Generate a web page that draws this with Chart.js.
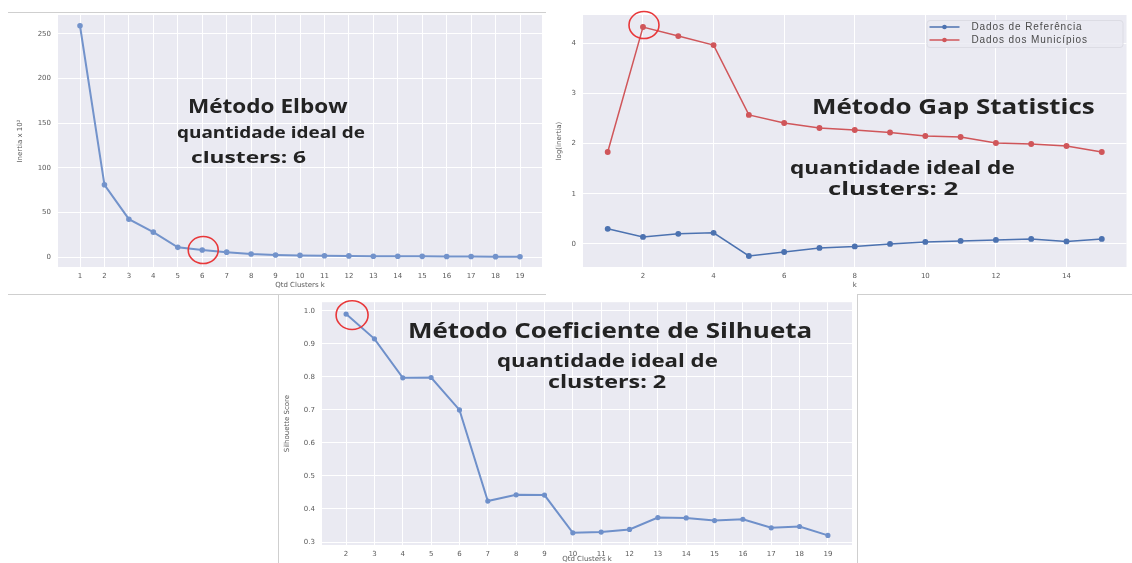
<!DOCTYPE html>
<html>
<head>
<meta charset="utf-8">
<script src="https://cdn.jsdelivr.net/npm/chart.js@4.4.0/dist/chart.umd.min.js"></script>
<style>
  body { margin: 0; background: #fff; width: 1132px; height: 563px; overflow: hidden; position: relative; font-family: "Open Sans", sans-serif; }
  canvas { position: absolute; }
  .rule { position: absolute; background: #cfcfcf; }
  .note { position: absolute; white-space: nowrap; font-weight: 700; color: #232323; line-height: 1; transform-origin: 0 50%; }
</style>
</head>
<body>
<div class="rule" style="left:8px;top:12px;width:538px;height:1px"></div>
<div class="rule" style="left:8px;top:294px;width:538px;height:1px"></div>
<div class="rule" style="left:857px;top:294px;width:275px;height:1px"></div>
<div class="rule" style="left:278px;top:294px;width:1px;height:269px"></div>
<div class="rule" style="left:857px;top:294px;width:1px;height:269px"></div>
<canvas id="elbow" width="548" height="296" style="left:0;top:0"></canvas>
<canvas id="gap" width="577" height="296" style="left:555px;top:0"></canvas>
<canvas id="silhueta" width="579" height="272" style="left:279px;top:291px"></canvas>
<script>
// Método Elbow
const elbowK = [1, 2, 3, 4, 5, 6, 7, 8, 9, 10, 11, 12, 13, 14, 15, 16, 17, 18, 19];
const elbowInertia = [259, 81, 42.5, 28, 11, 8, 5.6, 3.5, 2.5, 2, 1.6, 1.4, 1.1, 1, 0.9, 0.8, 0.7, 0.6, 0.5];
const elbowXTicks = [1, 2, 3, 4, 5, 6, 7, 8, 9, 10, 11, 12, 13, 14, 15, 16, 17, 18, 19];
const elbowYTicks = [0, 50, 100, 150, 200, 250];

// Método Gap Statistics
const gapK = [1, 2, 3, 4, 5, 6, 7, 8, 9, 10, 11, 12, 13, 14, 15];
const gapReferencia = [0.30, 0.14, 0.20, 0.22, -0.24, -0.16, -0.08, -0.05, 0.0, 0.04, 0.06, 0.08, 0.10, 0.05, 0.10];
const gapMunicipios = [1.83, 4.32, 4.14, 3.96, 2.57, 2.41, 2.31, 2.27, 2.22, 2.15, 2.13, 2.01, 1.99, 1.95, 1.83];
const gapXTicks = [2, 4, 6, 8, 10, 12, 14];
const gapYTicks = [0, 1, 2, 3, 4];

// Método Coeficiente de Silhueta
const silK = [2, 3, 4, 5, 6, 7, 8, 9, 10, 11, 12, 13, 14, 15, 16, 17, 18, 19];
const silScore = [0.99, 0.915, 0.797, 0.798, 0.70, 0.424, 0.443, 0.442, 0.328, 0.330, 0.338, 0.374, 0.373, 0.365, 0.369, 0.343, 0.347, 0.320];
const silXTicks = [2, 3, 4, 5, 6, 7, 8, 9, 10, 11, 12, 13, 14, 15, 16, 17, 18, 19];
const silYTicks = [0.3, 0.4, 0.5, 0.6, 0.7, 0.8, 0.9, 1.0];

const tickFont = { family: 'DejaVu Sans', size: 7 };
const tickColor = '#5a5a5a';

// fundo cinza estilo seaborn
const darkgrid = {
  id: 'darkgrid',
  beforeDraw(chart) {
    const { ctx, chartArea: a } = chart;
    ctx.save();
    ctx.fillStyle = '#eaeaf2';
    ctx.fillRect(a.left, a.top, a.right - a.left, a.bottom - a.top);
    ctx.restore();
  }
};

// círculo vermelho em volta do ponto escolhido
const marca = {
  id: 'marca',
  afterDatasetsDraw(chart, args, opts) {
    const meta = chart.getDatasetMeta(opts.dataset);
    const p = meta.data[opts.index];
    const ctx = chart.ctx;
    ctx.save();
    ctx.strokeStyle = '#e8383a';
    ctx.lineWidth = 1.6;
    ctx.beginPath();
    ctx.ellipse(p.x + opts.dx, p.y + opts.dy, opts.r, opts.r * 0.9, 0, 0, Math.PI * 2);
    ctx.stroke();
    ctx.restore();
  }
};

// legenda dentro da área do gráfico (canto superior direito)
const legendaInterna = {
  id: 'legendaInterna',
  afterDraw(chart) {
    const { ctx, chartArea: a } = chart;
    const x0 = a.right - 200, y0 = a.top + 5, w = 196, h = 27;
    ctx.save();
    ctx.fillStyle = 'rgba(234,234,242,0.85)';
    ctx.strokeStyle = '#dcdce4';
    ctx.lineWidth = 1;
    ctx.beginPath();
    ctx.roundRect(x0 + 0.5, y0 + 0.5, w, h, 3);
    ctx.fill();
    ctx.stroke();
    ctx.font = '10px "Liberation Sans"';
    ctx.letterSpacing = '0.9px';
    ctx.textBaseline = 'middle';
    chart.data.datasets.forEach((ds, i) => {
      const y = y0 + 7 + i * 13;
      ctx.strokeStyle = ds.borderColor;
      ctx.lineWidth = 1.5;
      ctx.beginPath();
      ctx.moveTo(x0 + 3, y);
      ctx.lineTo(x0 + 33, y);
      ctx.stroke();
      ctx.fillStyle = ds.borderColor;
      ctx.beginPath();
      ctx.arc(x0 + 18, y, 2.3, 0, Math.PI * 2);
      ctx.fill();
      ctx.fillStyle = '#4a4a4a';
      ctx.fillText(ds.label, x0 + 45, y + 0.5);
    });
    ctx.restore();
  }
};

function eixo(opts) {
  const vertical = opts.pos === 'left';
  return {
    type: 'linear',
    position: opts.pos,
    min: opts.min,
    max: opts.max,
    afterBuildTicks(scale) { scale.ticks = opts.ticks.map(v => ({ value: v })); },
    afterFit(scale) {
      if (vertical) scale.width = opts.size; else scale.height = opts.size;
    },
    grid: { color: '#ffffff', lineWidth: 1, drawTicks: false },
    border: { display: false },
    ticks: {
      font: tickFont,
      color: tickColor,
      padding: vertical ? 7 : 5,
      maxRotation: 0,
      autoSkip: false,
      callback: opts.fmt || (v => String(v))
    },
    title: {
      display: true,
      text: opts.title,
      font: tickFont,
      color: tickColor,
      padding: opts.titlePad || 0
    }
  };
}

function pares(xs, ys) { return xs.map((x, i) => ({ x: x, y: ys[i] })); }

const base = {
  responsive: false,
  animation: false,
  devicePixelRatio: 1,
  plugins: { legend: { display: false }, tooltip: { enabled: false } }
};

new Chart(document.getElementById('elbow'), {
  type: 'line',
  data: {
    datasets: [{
      label: 'Inertia',
      data: pares(elbowK, elbowInertia),
      borderColor: '#7393cb',
      backgroundColor: '#7393cb',
      borderWidth: 2,
      pointRadius: 1.8,
      tension: 0
    }]
  },
  options: {
    ...base,
    layout: { padding: { left: 0, right: 6, top: 15, bottom: 0 } },
    scales: {
      x: eixo({ pos: 'bottom', min: 0.1, max: 19.9, ticks: elbowXTicks, size: 29, title: 'Qtd Clusters k', titlePad: { top: 0, bottom: 7 } }),
      y: eixo({ pos: 'left', min: -11, max: 271, ticks: elbowYTicks, size: 58, title: 'Inertia x 10²', titlePad: { top: 16, bottom: 0 } })
    },
    plugins: { ...base.plugins, marca: { dataset: 0, index: 5, dx: 1, dy: 0, r: 15 } }
  },
  plugins: [darkgrid, marca]
});

new Chart(document.getElementById('gap'), {
  type: 'line',
  data: {
    datasets: [{
      label: 'Dados de Referência',
      data: pares(gapK, gapReferencia),
      borderColor: '#4c72b0',
      backgroundColor: '#4c72b0',
      borderWidth: 1.5,
      pointRadius: 2.2,
      tension: 0
    }, {
      label: 'Dados dos Municípios',
      data: pares(gapK, gapMunicipios),
      borderColor: '#d0565a',
      backgroundColor: '#d0565a',
      borderWidth: 1.5,
      pointRadius: 2.2,
      tension: 0
    }]
  },
  options: {
    ...base,
    layout: { padding: { left: 0, right: 0, top: 15, bottom: 0 } },
    scales: {
      x: eixo({ pos: 'bottom', min: 0.3, max: 15.7, ticks: gapXTicks, size: 29, title: 'k', titlePad: { top: 0, bottom: 7 } }),
      y: eixo({ pos: 'left', min: -0.46, max: 4.56, ticks: gapYTicks, size: 28, title: 'log(inertia)' })
    },
    plugins: { ...base.plugins, marca: { dataset: 1, index: 1, dx: 1, dy: -2, r: 15 } }
  },
  plugins: [darkgrid, marca, legendaInterna]
});

new Chart(document.getElementById('silhueta'), {
  type: 'line',
  data: {
    datasets: [{
      label: 'Silhouette Score',
      data: pares(silK, silScore),
      borderColor: '#6f90ca',
      backgroundColor: '#6f90ca',
      borderWidth: 2,
      pointRadius: 1.6,
      tension: 0
    }]
  },
  options: {
    ...base,
    layout: { padding: { left: 0, right: 3, top: 4, bottom: 0 } },
    scales: {
      x: eixo({ pos: 'bottom', min: 1.15, max: 19.85, ticks: silXTicks, size: 18, title: 'Qtd Clusters k' }),
      y: eixo({ pos: 'left', min: 0.291, max: 1.026, ticks: silYTicks, size: 43, title: 'Silhouette Score', fmt: v => v.toFixed(1), titlePad: { top: 4, bottom: 0 } })
    },
    plugins: { ...base.plugins, marca: { dataset: 0, index: 0, dx: 6, dy: 1, r: 16 } }
  },
  plugins: [darkgrid, marca]
});

// textos sobrepostos: [texto, centro x, centro y, tamanho, largura]
const notas = [
  ['Método Elbow', 267, 106, 19, 159],
  ['quantidade ideal de', 271, 132, 16, 188],
  ['clusters: 6', 248, 157, 16, 115],
  ['Método Gap Statistics', 953, 106, 21, 283],
  ['quantidade ideal de', 902, 167, 17, 225],
  ['clusters: 2', 893, 188, 17, 130],
  ['Método Coeficiente de Silhueta', 610, 330, 21, 404],
  ['quantidade ideal de', 607, 360, 17, 221],
  ['clusters: 2', 607, 381, 17, 118]
];
notas.forEach(([texto, cx, cy, size, largura]) => {
  const d = document.createElement('div');
  d.className = 'note';
  d.textContent = texto;
  d.style.fontSize = size + 'px';
  document.body.appendChild(d);
  const w = d.offsetWidth, h = d.offsetHeight;
  d.style.left = (cx - largura / 2) + 'px';
  d.style.top = (cy - h / 2) + 'px';
  d.style.transform = 'scaleX(' + (largura / w) + ')';
});
</script>
</body>
</html>
